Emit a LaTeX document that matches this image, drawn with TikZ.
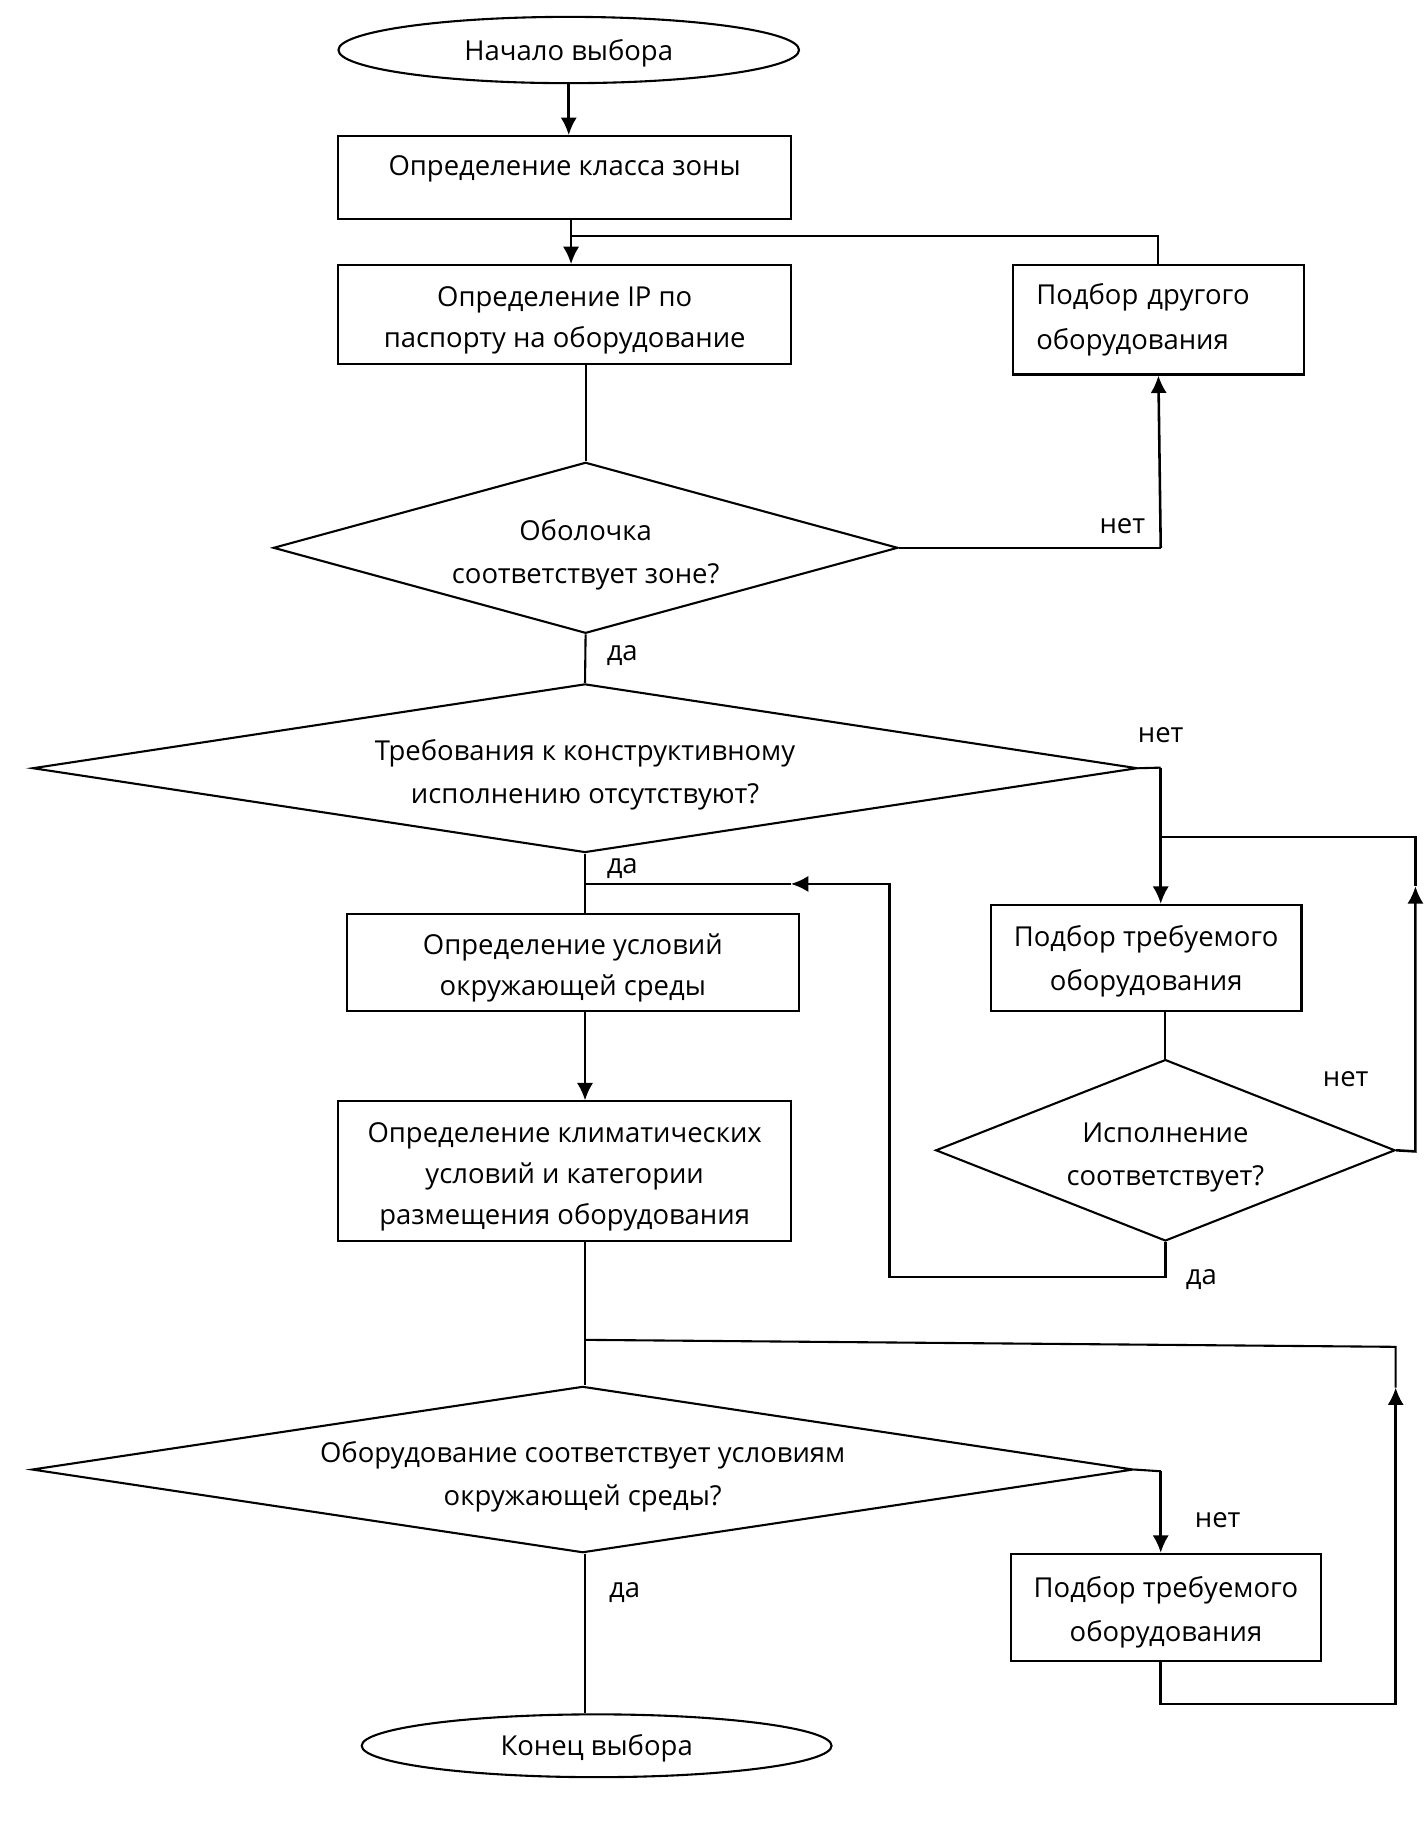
\documentclass[tikz,border=0pt]{standalone}
\usepackage{fontspec}
\setmainfont{Open Sans}
\usetikzlibrary{shapes.geometric,arrows.meta}
\begin{document}
\begin{tikzpicture}[x=0.5pt,y=-0.5pt,
  every node/.style={font=\fontsize{11.8pt}{17.5pt}\selectfont},
  box/.style={draw,line width=0.9pt,rectangle,inner sep=0pt},
  dia/.style={draw,line width=0.9pt,diamond,inner sep=0pt},
  txt/.style={inner sep=0pt,align=center},
  dtxt/.style={inner sep=0pt,align=center,font=\fontsize{11.8pt}{18.5pt}\selectfont},
  term/.style={draw,line width=0.9pt,ellipse,inner sep=0pt},
  lbl/.style={inner sep=0pt},
  ln/.style={line width=0.9pt},
  arr/.style={line width=1.1pt,-{Latex[length=7.5pt,width=7pt]}}]
\useasboundingbox (0,0) rectangle (1227,1570);
% shapes
\node[term,minimum width=198pt,minimum height=28.5pt] (start) at (489,43) {};
\node[txt,yshift=-1.2pt] (ts) at (start) {Начало выбора};
\node[box,minimum width=194.5pt,minimum height=35.5pt] (box1) at (485.5,152.5) {};
\node[txt,yshift=3.5pt] (tb1) at (box1) {Определение класса зоны};
\node[box,minimum width=194.5pt,minimum height=42.5pt] (box2) at (485.5,270.5) {};
\node[txt,yshift=-2.5pt] (tb2) at (box2) {Определение IP по\\паспорту на оборудование};
\node[box,minimum width=125pt,minimum height=47pt] (other) at (996,275) {};
\node[txt,text width=105pt,align=left,font=\fontsize{11.8pt}{19pt}\selectfont] (to) at (other) {Подбор другого\\оборудования};
\node[dia,minimum width=268.5pt,minimum height=73.5pt] (dia1) at (503.5,471) {};
\node[dtxt,yshift=-3pt] (t1) at (dia1) {Оболочка\\соответствует зоне?};
\node[dia,minimum width=475pt,minimum height=72.5pt] (dia2) at (503,660.5) {};
\node[dtxt,yshift=-3pt] (t2) at (dia2) {Требования к конструктивному\\исполнению отсутствуют?};
\node[box,minimum width=194.5pt,minimum height=41.5pt] (box3) at (492.5,827.5) {};
\node[txt,yshift=-2.5pt] (tb3) at (box3) {Определение условий\\окружающей среды};
\node[box,minimum width=194.5pt,minimum height=60pt] (box4) at (485.5,1007) {};
\node[txt,yshift=-2.5pt] (tb4) at (box4) {Определение климатических\\условий и категории\\размещения оборудования};
\node[box,minimum width=133.5pt,minimum height=45.5pt] (box6) at (985.5,823.5) {};
\node[txt,yshift=-1.5pt,font=\fontsize{11.8pt}{19pt}\selectfont] (tb6) at (box6) {Подбор требуемого\\оборудования};
\node[dia,minimum width=197.5pt,minimum height=78pt] (dia3) at (1002,989) {};
\node[dtxt,yshift=-3pt] (t3) at (dia3) {Исполнение\\соответствует?};
\node[dia,minimum width=473.5pt,minimum height=71.5pt] (dia4) at (501,1263.5) {};
\node[dtxt,yshift=-3pt] (t4) at (dia4) {Оборудование соответствует условиям\\окружающей среды?};
\node[box,minimum width=133.5pt,minimum height=46pt] (box5) at (1002.5,1382) {};
\node[txt,yshift=-2pt,font=\fontsize{11.8pt}{19pt}\selectfont] (tb5) at (box5) {Подбор требуемого\\оборудования};
\node[term,minimum width=202pt,minimum height=27pt] (end) at (513,1501) {};
\node[txt,yshift=-1.2pt] (te) at (end) {Конец выбора};
% labels
\node[lbl] (n1) at (965,452) {нет};
\node[lbl] (y1) at (535,564) {да};
\node[lbl] (n2) at (998,632) {нет};
\node[lbl] (y2) at (535,747) {да};
\node[lbl] (n3) at (1157,928) {нет};
\node[lbl] (y3) at (1033,1100) {да};
\node[lbl] (n4) at (1047,1307) {нет};
\node[lbl] (y4) at (537,1369) {да};
% coordinates
\coordinate (j1) at (491,203);
\coordinate (c1) at (998,471);
\coordinate (c2) at (998,660);
\coordinate (j2) at (998,720);
\coordinate (r0) at (1217,720);
\coordinate (r1) at (1217,762);
\coordinate (r2) at (1217,990);
\coordinate (d1) at (1002,1098);
\coordinate (d2) at (765,1098);
\coordinate (d3) at (765,760);
\coordinate (d4) at (680,760);
\coordinate (d5) at (503,760);
\coordinate (j3) at (503,1152);
\coordinate (s0) at (1200,1158);
\coordinate (s1) at (1200,1193);
\coordinate (s2) at (1200,1465);
\coordinate (c5) at (998,1465);
\coordinate (c4) at (998,1265);
% connectors
\draw[arr] (start.south) -- (start.south |- box1.north);
\draw[ln] (box1.south -| j1) -- (j1);
\draw[arr] (j1) -- (j1 |- box2.north);
\draw[ln] (j1) -- (j1 -| other.north) -- (other.north);
\draw[ln] (box2.south -| dia1.north) -- (dia1.north);
\draw[ln] (dia1.east) -- (c1);
\draw[arr] (c1) -- (other.south);
\draw[ln] (dia1.south) -- (dia2.north);
\draw[ln] (dia2.east) -- (c2);
\draw[arr] (c2) -- (c2 |- box6.north);
\draw[ln] (j2) -- (r0) -- (r1);
\draw[arr] (dia3.east) -- (r2) -- (r1);
\draw[ln] (box6.south -| dia3.north) -- (dia3.north);
\draw[arr] (dia3.south) -- (d1) -- (d2) -- (d3) -- (d4);
\draw[ln] (d4) -- (d5);
\draw[ln] (dia2.south) -- (dia2.south |- box3.north);
\draw[arr] (box3.south -| d5) -- (box4.north -| d5);
\draw[ln] (box4.south -| d5) -- (dia4.north -| d5);
\draw[ln] (j3) -- (s0) -- (s1);
\draw[arr] (box5.south -| c5) -- (c5) -- (s2) -- (s1);
\draw[ln] (dia4.east) -- (c4);
\draw[arr] (c4) -- (c4 |- box5.north);
\draw[ln] (dia4.south -| d5) -- (d5 |- end.north);
\end{tikzpicture}
\end{document}
